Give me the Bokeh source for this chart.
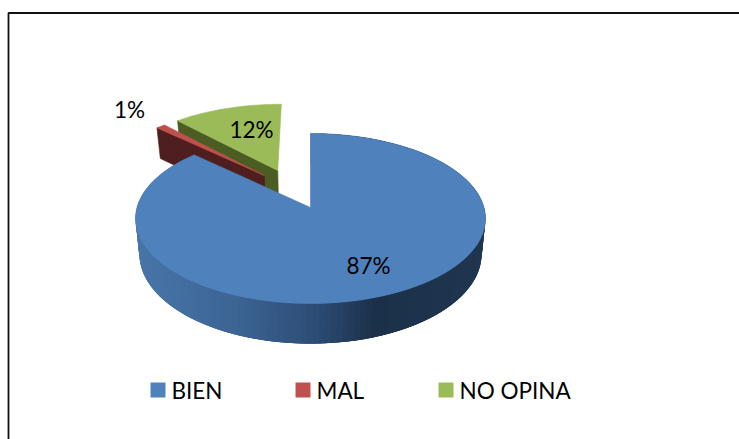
import math
from bokeh.plotting import figure
from bokeh.models import Range1d
from bokeh.core.properties import value
from bokeh.embed import file_html
from bokeh.resources import INLINE

categories = ["BIEN", "MAL", "NO OPINA"]
values = [87, 1, 12]
labels = ["87%", "1%", "12%"]
colors = ["#4f81bd", "#c0504d", "#9bbb59"]
side_colors = [None, "#4f1f1f", "#4b5d22"]

W, H = 739, 439
CX, CY = 310, 207          # origin of the projected disc
A, B, K = 83.6, 173.5, 0.129   # vertical scale, horizontal scale, perspective
DEPTH, BOTTOM_X = 35, 0.978
# where each slice's apex sits on the disc plane (explosion)
offsets = [(0.0, 0.0), (-0.28, 0.402), (-0.2, 0.469)]
label_pos = [(368, 265), (129, 109), (251, 129)]
legend_x = [150, 295, 438]
legend_y = 389.5
FONT_PX = "22.5px"
RIM_STOPS = [(136, (72, 117, 168)), (230, (60, 100, 148)), (310, (44, 76, 116)),
             (370, (27, 48, 73)), (485, (32, 54, 80))]


def project(u, v):
    d = 1 + K * v
    return CX + B * u / d, CY - A * v / d


def drop(u, v):
    x, y = project(u, v)
    return CX + (x - CX) * BOTTOM_X, y + DEPTH / (1 + K * v)


def ring(a0, a1, off, n):
    out = []
    for i in range(n + 1):
        t = math.radians(a0 + (a1 - a0) * i / n)
        out.append((off[0] + math.sin(t), off[1] + math.cos(t)))
    return out


def rim_color(x):
    if x <= RIM_STOPS[0][0]:
        c = RIM_STOPS[0][1]
    else:
        c = RIM_STOPS[-1][1]
        for (x0, c0), (x1, c1) in zip(RIM_STOPS, RIM_STOPS[1:]):
            if x0 <= x <= x1:
                f = (x - x0) / (x1 - x0)
                c = tuple(c0[j] + (c1[j] - c0[j]) * f for j in range(3))
                break
    return "#%02x%02x%02x" % tuple(int(round(v)) for v in c)


total = sum(values)
starts, acc = [], 0.0
for val in values:
    starts.append(acc)
    acc += val / total * 360

p = figure(width=W, height=H, x_range=Range1d(0, W), y_range=Range1d(H, 0),
           output_backend="svg", toolbar_location=None, min_border=0)
p.axis.visible = False
p.grid.visible = False
p.outline_line_color = None
p.styles = {"position": "absolute", "left": "0", "top": "0"}


def poly(pts, color):
    p.patch([q[0] for q in pts], [q[1] for q in pts], fill_color=color, line_color=color, line_width=0.6)


# exploded back slices: side wall along the first radial edge, then top
for i in [2, 1]:
    off = offsets[i]
    a0 = starts[i]
    a1 = a0 + values[i] / total * 360
    edge = [off, (off[0] + math.sin(math.radians(a0)), off[1] + math.cos(math.radians(a0)))]
    top_e = [project(*q) for q in edge]
    bot_e = [drop(*q) for q in edge]
    poly(top_e + bot_e[::-1], side_colors[i])
    rim = ring(a0, a1, off, 30)
    poly([project(*off)] + [project(*q) for q in rim], colors[i])

# main slice: rim as overlapping shaded segments (no seams), then top
rim = ring(0, values[0] / total * 360, offsets[0], 180)
xs, ys, cs = [], [], []
for q0, q1 in zip(rim, rim[3:]):
    t0, t1, b0, b1 = project(*q0), project(*q1), drop(*q0), drop(*q1)
    xs.append([t0[0], t1[0], b1[0], b0[0]])
    ys.append([t0[1], t1[1], b1[1], b0[1]])
    cs.append(rim_color((t0[0] + t1[0]) / 2))
p.patches(xs, ys, fill_color=cs, line_color=None)
poly([project(0, 0)] + [project(*q) for q in rim], colors[0])

# frame
p.line([8, 8, W], [H, 12.5, 12.5], line_color="#111111", line_width=1.8)

# data labels
p.text([q[0] for q in label_pos], [q[1] for q in label_pos], text=labels, text_font=value("Lato"),
       text_font_size=FONT_PX, text_color="#000000", text_align="center", text_baseline="middle")

# legend
p.rect([x + 7.5 for x in legend_x], [legend_y] * 3, width=15, height=15, fill_color=colors, line_color=None)
p.text([x + 21 for x in legend_x], [legend_y] * 3, text=categories, text_font=value("Lato"),
       text_font_size=FONT_PX, text_color="#000000", text_align="left", text_baseline="middle")

open("out.html", "w").write(file_html(p, INLINE))
